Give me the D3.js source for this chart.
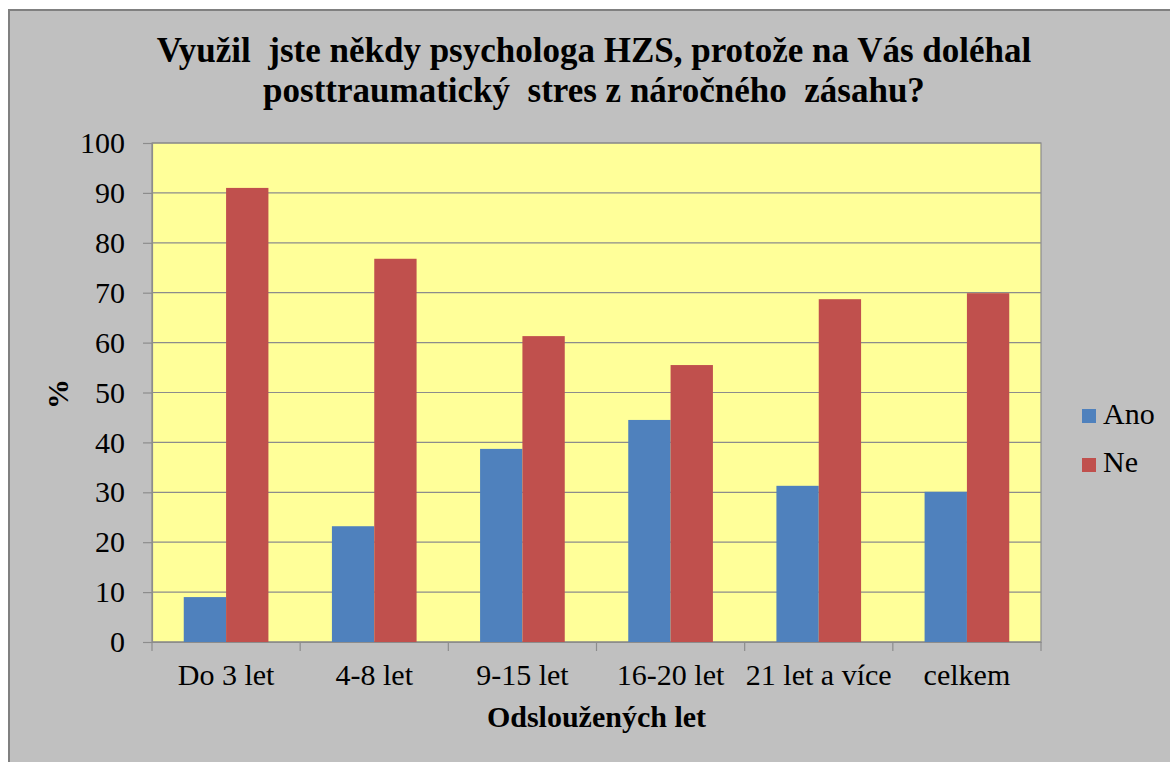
<!DOCTYPE html>
<html><head><meta charset="utf-8">
<script src="https://cdn.jsdelivr.net/npm/d3@7"></script>
</head>
<body style="margin:0">
<svg id="c" width="1170" height="762" style="display:block"></svg>
<script>
const categories = ["Do 3 let","4-8 let","9-15 let","16-20 let","21 let a více","celkem"];
const seriesNames = ["Ano","Ne"];
const ano = [9.0, 23.2, 38.7, 44.5, 31.3, 30.1];
const ne  = [91.0, 76.8, 61.3, 55.5, 68.7, 69.9];
const yTicks = [0,10,20,30,40,50,60,70,80,90,100];
const titleLines = ["Využil  jste někdy psychologa HZS, protože na Vás doléhal","posttraumatický  stres z náročného  zásahu?"];
const colors = ["#4F81BD","#C0504D"];
const FONT = "Liberation Serif";

const svg = d3.select("#c");
svg.append("rect").attr("x",9).attr("y",10).attr("width",1200).attr("height",800)
  .attr("fill","#C0C0C0").attr("stroke","#808080").attr("stroke-width",2);

const L=152, R=1041, T=143, B=642;
const x = d3.scaleBand().domain(categories).range([L,R]).paddingInner(0).paddingOuter(0);
const y = d3.scaleLinear().domain([0,100]).range([B,T]);

svg.append("rect").attr("x",L).attr("y",T).attr("width",R-L).attr("height",B-T)
  .attr("fill","#FFFF99").attr("stroke","#8C8C8C").attr("stroke-width",1.2);

svg.append("g").selectAll("line").data(yTicks).join("line")
  .attr("x1",L).attr("x2",R).attr("y1",d=>y(d)).attr("y2",d=>y(d))
  .attr("stroke","#8C8C8C").attr("stroke-width",1.2);

const bw = x.bandwidth()/3.5;
const data = categories.map((c,i)=>({c, vals:[ano[i],ne[i]]}));
const g = svg.append("g");
data.forEach(d=>{
  d.vals.forEach((v,k)=>{
    g.append("rect")
      .attr("x", x(d.c) + 0.75*bw + k*bw)
      .attr("y", y(v))
      .attr("width", bw)
      .attr("height", y(0)-y(v))
      .attr("fill", colors[k]);
  });
});

const yAxis = d3.axisLeft(y).tickValues(yTicks).tickSize(9).tickPadding(18).tickFormat(d3.format("d"));
const ya = svg.append("g").attr("transform",`translate(${L},0)`).call(yAxis);
ya.attr("font-family",FONT).attr("font-size",30);
ya.select(".domain").attr("stroke","#8C8C8C").attr("stroke-width",1.2);
ya.selectAll(".tick line").attr("stroke","#8C8C8C").attr("stroke-width",1.2);
ya.selectAll(".tick text").style("font-family",FONT).attr("fill","#000");

const xa = svg.append("g").attr("transform",`translate(0,${B})`)
  .call(d3.axisBottom(x).tickSize(0).tickPadding(0));
xa.attr("font-family",FONT).attr("font-size",30);
xa.select(".domain").attr("stroke","#8C8C8C").attr("stroke-width",1.2);
xa.selectAll(".tick text").style("font-family",FONT).attr("fill","#000").attr("dy",null)
  .attr("y",43);
const bounds = categories.map(c=>x(c)).concat([R]);
xa.append("g").selectAll("line").data(bounds).join("line")
  .attr("x1",d=>d).attr("x2",d=>d).attr("y1",0).attr("y2",9)
  .attr("stroke","#8C8C8C").attr("stroke-width",1.2);

svg.append("g").selectAll("text").data(titleLines).join("text")
  .attr("x",594).attr("y",(d,i)=>62+i*40).attr("text-anchor","middle")
  .attr("font-size",35).attr("font-weight","bold").style("font-family",FONT)
  .attr("xml:space","preserve").text(d=>d);

svg.append("text").attr("x",(L+R)/2).attr("y",727).attr("text-anchor","middle")
  .attr("font-size",30).attr("font-weight","bold").style("font-family",FONT).text("Odsloužených let");
svg.append("text").attr("transform","translate(68,394) rotate(-90)").attr("text-anchor","middle")
  .attr("font-size",30).attr("font-weight","bold").style("font-family",FONT).text("%");

const lg = svg.append("g");
seriesNames.forEach((s,i)=>{
  lg.append("rect").attr("x",1082).attr("y",409+i*49).attr("width",14).attr("height",14).attr("fill",colors[i]);
  lg.append("text").attr("x",1103).attr("y",424+i*48).attr("font-size",30).style("font-family",FONT).text(s);
});
</script>
</body></html>
